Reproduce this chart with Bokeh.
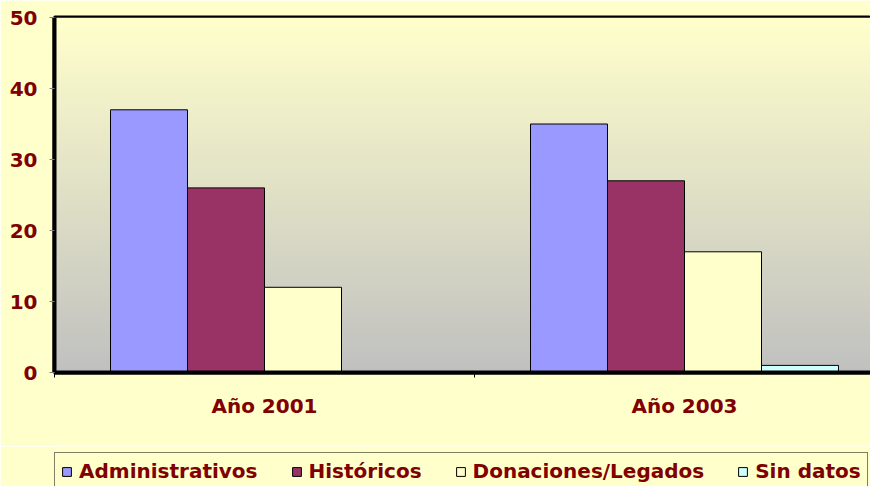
import numpy as np
from bokeh.plotting import figure
from bokeh.models import FixedTicker, Legend, LegendItem, Range1d
from bokeh.layouts import column
from bokeh.embed import file_html
from bokeh.resources import INLINE

# ---- data ----
categories = ["Año 2001", "Año 2003"]
series = ["Administrativos", "Históricos", "Donaciones/Legados", "Sin datos"]
administrativos = [37, 35]
historicos = [26, 27]
donaciones = [12, 17]
sin_datos = [0, 1]
y_ticks = [0, 10, 20, 30, 40, 50]
colors = ["#9999FF", "#993366", "#FFFFCC", "#CCFFFF"]

FONT = "DejaVu Sans"
TXT = "#800000"
BG = "#FFFFCC"

W = 870
H_MAIN, H_LEG = 446, 40
LEFT, TOP, BOTTOM = 54, 17, 372
FRAME_W = W - LEFT     # frame runs off the right edge
CAT_PX = 420           # px per category

p = figure(width=W, height=H_MAIN, output_backend="svg", toolbar_location=None,
           x_range=Range1d(0, FRAME_W / CAT_PX), y_range=Range1d(0, 50),
           min_border_left=LEFT, min_border_right=0, min_border_top=TOP,
           min_border_bottom=H_MAIN - BOTTOM)
p.border_fill_color = BG
p.background_fill_color = BG
p.outline_line_color = "black"
p.outline_line_width = 4
p.grid.visible = False

# gradient background of plot area (light yellow top -> grey bottom)
n = 256
t = np.linspace(0.0, 1.0, n)[:, None]
top_c = np.array([255, 255, 204], dtype=float)
bot_c = np.array([192, 192, 192], dtype=float)
img = np.empty((n, 1), dtype=np.uint32)
view = img.view(dtype=np.uint8).reshape((n, 1, 4))
for k in range(3):
    view[:, :, k] = np.round(bot_c[k] + (top_c[k] - bot_c[k]) * t).astype(np.uint8)
view[:, :, 3] = 255
p.image_rgba(image=[img], x=0, y=0, dw=2.5, dh=50)

# bars
bar_w = 77 / CAT_PX
centers = [i + 0.5 for i in range(len(categories))]
values = [administrativos, historicos, donaciones, sin_datos]
bar_renderers = []
for i, (name, vals) in enumerate(zip(series, values)):
    off = (i - 1.5) * bar_w
    r = p.vbar(x=[c + off for c in centers], top=vals, bottom=0, width=bar_w,
               fill_color=colors[i], line_color="black", line_width=1)
    bar_renderers.append(r)

# x axis
p.xaxis.ticker = FixedTicker(ticks=centers, minor_ticks=[0, 1, 2])
p.xaxis.major_label_overrides = {c: lab for c, lab in zip(centers, categories)}
p.xaxis.major_tick_line_color = None
p.xaxis.minor_tick_line_color = "black"
p.xaxis.minor_tick_out = 5
p.xaxis.minor_tick_in = 0
p.xaxis.axis_line_color = "black"
p.xaxis.axis_line_width = 4
p.xaxis.major_label_standoff = 15

# y axis
p.yaxis.ticker = FixedTicker(ticks=y_ticks)
p.yaxis.minor_tick_line_color = None
p.yaxis.major_tick_line_color = "#808080"
p.yaxis.major_tick_out = 5
p.yaxis.major_tick_in = 0
p.yaxis.axis_line_color = "black"
p.yaxis.axis_line_width = 4
p.yaxis.major_label_standoff = 12

for ax in (p.xaxis, p.yaxis):
    ax.major_label_text_font = FONT
    ax.major_label_text_font_style = "bold"
    ax.major_label_text_font_size = "20px"
    ax.major_label_text_color = TXT

# ---- legend strip (separate figure below) ----
pl = figure(width=W, height=H_LEG, output_backend="svg", toolbar_location=None,
            x_axis_location=None, y_axis_location=None,
            x_range=Range1d(0, 1), y_range=Range1d(0, 1),
            min_border=0, min_border_left=0, min_border_right=0,
            min_border_top=0, min_border_bottom=0)
pl.border_fill_color = BG
pl.background_fill_color = BG
pl.outline_line_color = None
pl.grid.visible = False
# hidden proxy renderers carrying each series' style, only used by the legend
leg_renderers = []
for name, vals, c in zip(series, values, colors):
    rr = pl.vbar(x=centers, top=vals, bottom=0, width=bar_w,
                 fill_color=c, line_color="black", line_width=1, visible=False)
    leg_renderers.append(rr)
legend = Legend(items=[LegendItem(label=s, renderers=[r]) for s, r in zip(series, leg_renderers)],
                orientation="horizontal", location=(0, -4),
                label_text_font=FONT, label_text_font_style="bold",
                label_text_font_size="20px", label_text_color=TXT,
                glyph_width=11, glyph_height=11, label_standoff=7, spacing=33,
                padding=6, margin=0, border_line_color="black", border_line_width=1,
                background_fill_color=BG, background_fill_alpha=1.0,
                inactive_fill_alpha=0.0)
pl.add_layout(legend, "center")

layout = column(p, pl, spacing=0)
open("out.html", "w").write(file_html(layout, INLINE))
